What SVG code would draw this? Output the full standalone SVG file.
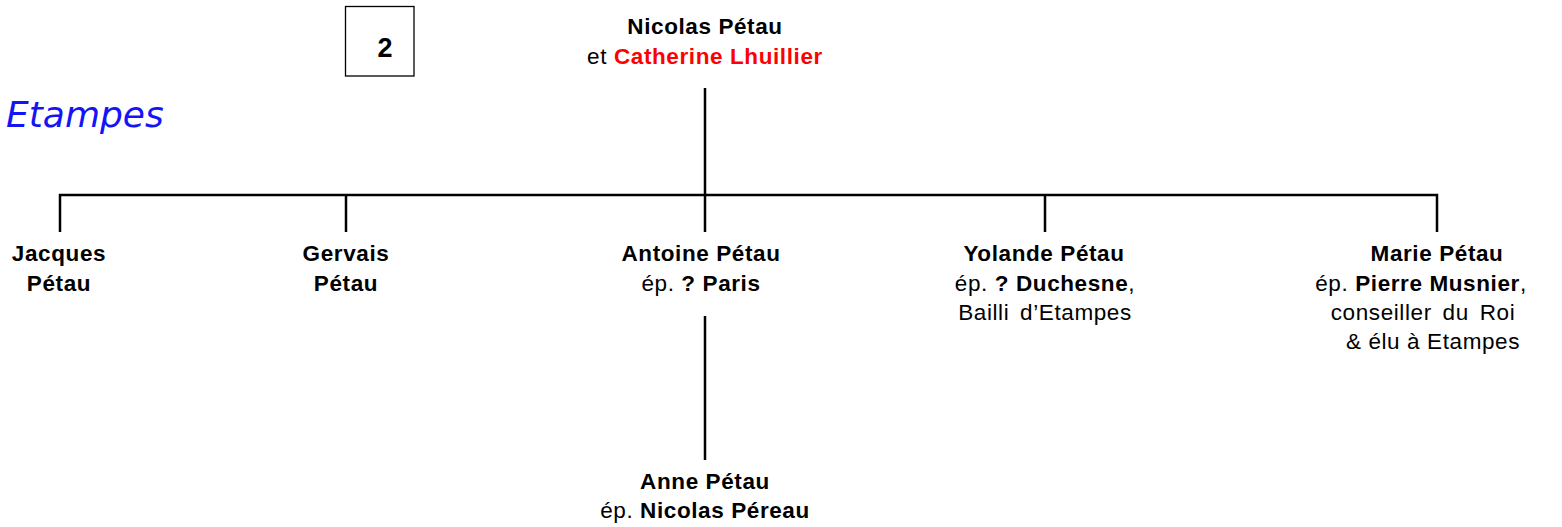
<svg xmlns="http://www.w3.org/2000/svg" width="1562" height="527" viewBox="0 0 1562 527">
<style>
.t{font-family:"Liberation Sans",Arial,sans-serif;font-size:22.5px;letter-spacing:0.6px;fill:#000;text-anchor:middle}
.b{font-weight:bold}
.r{fill:#ff0000;font-weight:bold}
.ln{stroke:#000;stroke-width:2.5;fill:none}
</style>
<rect width="1562" height="527" fill="#fff"/>
<g id="box2">
<rect x="345.5" y="6.5" width="68.5" height="69.5" fill="#fff" stroke="#000" stroke-width="1.3"/>
<text x="385" y="57" font-family="Liberation Sans,Arial,sans-serif" font-weight="bold" font-size="27" text-anchor="middle">2</text>
</g>
<g id="title">
<text x="6" y="127" font-family="DejaVu Sans,Verdana,sans-serif" font-style="italic" font-size="36" fill="#1414f5">Etampes</text>
</g>
<g id="connectors">
<path class="ln" d="M705 88V195M60 232V195H1437V232M346 195V232M705 195V232M1045 195V232M705 316V460"/>
</g>
<g id="parents">
<text class="t b" x="705" y="34">Nicolas Pétau</text>
<text class="t" x="705" y="64">et <tspan class="r">Catherine Lhuillier</tspan></text>
</g>
<g id="jacques">
<text class="t b" x="59" y="261">Jacques</text>
<text class="t b" x="59" y="291">Pétau</text>
</g>
<g id="gervais">
<text class="t b" x="346" y="261">Gervais</text>
<text class="t b" x="346" y="291">Pétau</text>
</g>
<g id="antoine">
<text class="t b" x="701" y="261">Antoine Pétau</text>
<text class="t" x="701" y="291">ép. <tspan class="b">? Paris</tspan></text>
</g>
<g id="yolande">
<text class="t b" x="1044" y="261">Yolande Pétau</text>
<text class="t" x="1045" y="291">ép. <tspan class="b">? Duchesne</tspan>,</text>
<text class="t" x="1045" y="320" word-spacing="4">Bailli d’Etampes</text>
</g>
<g id="marie">
<text class="t b" x="1437" y="261">Marie Pétau</text>
<text class="t" x="1421" y="291">ép. <tspan class="b">Pierre Musnier</tspan>,</text>
<text class="t" x="1423" y="320" word-spacing="4">conseiller du Roi</text>
<text class="t" x="1433" y="349">&amp; élu à Etampes</text>
</g>
<g id="anne">
<text class="t b" x="705" y="489">Anne Pétau</text>
<text class="t" x="705" y="518">ép. <tspan class="b">Nicolas Péreau</tspan></text>
</g>
</svg>
